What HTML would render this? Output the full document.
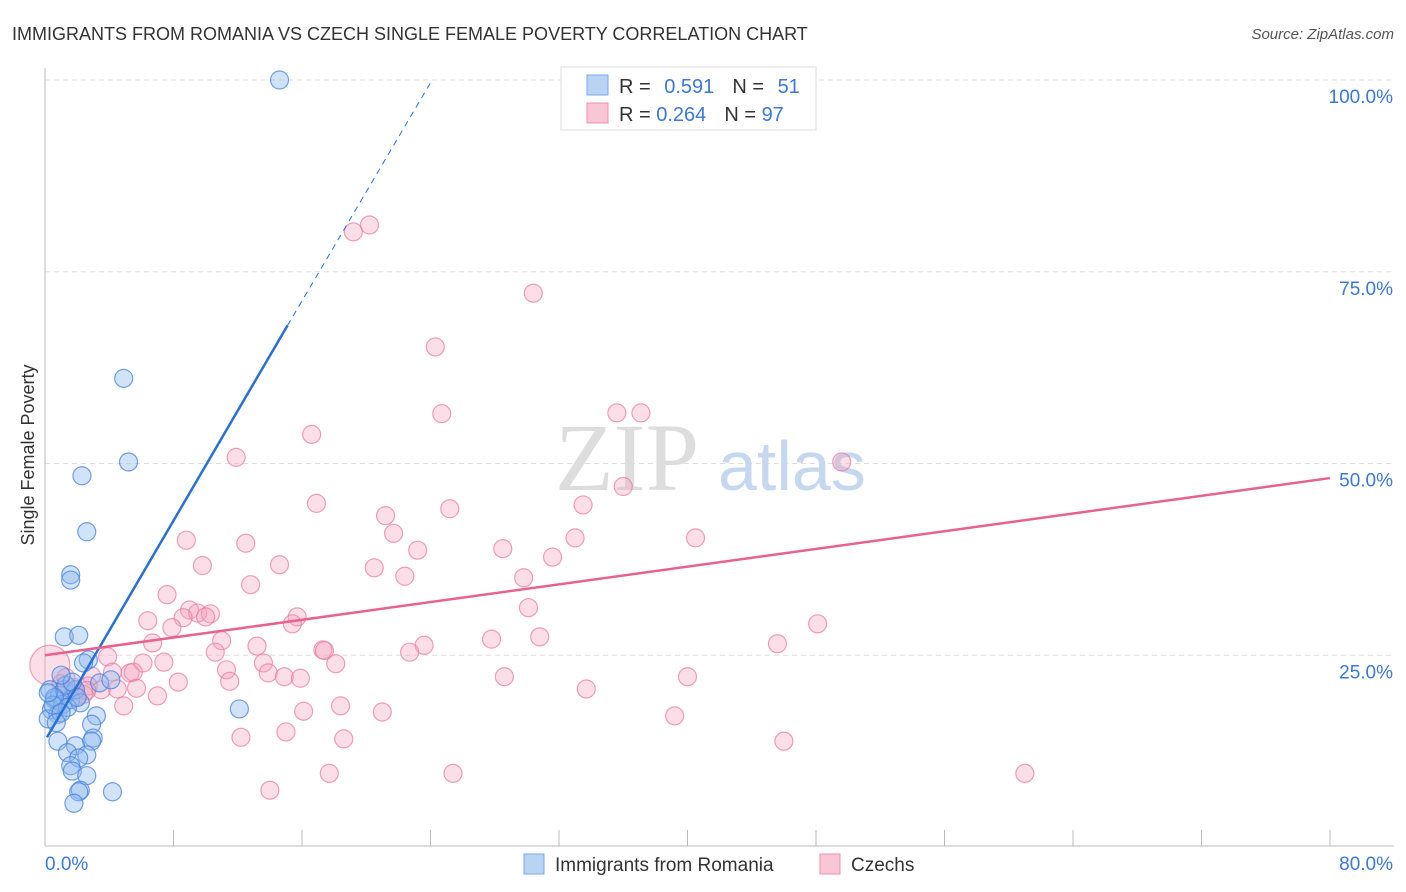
<!DOCTYPE html>
<html><head><meta charset="utf-8">
<style>
body{margin:0;background:#fff;font-family:"Liberation Sans",sans-serif;}
svg{display:block}
</style></head>
<body>
<svg id="chart" width="1406" height="892" viewBox="0 0 1406 892" xmlns="http://www.w3.org/2000/svg">
<text x="12" y="40" font-size="18" fill="#333">IMMIGRANTS FROM ROMANIA VS CZECH SINGLE FEMALE POVERTY CORRELATION CHART</text>
<text x="1394" y="39" font-size="15" fill="#555" font-style="italic" text-anchor="end">Source: ZipAtlas.com</text>
<text transform="translate(34,455) rotate(-90)" font-size="18" fill="#333" text-anchor="middle">Single Female Poverty</text>
<g id="grid"></g>
<g>
<text x="555" y="490" font-size="96" fill="#ddd" font-family="Liberation Serif,serif">ZIP</text>
<text x="718" y="490" font-size="70" fill="#c6d8f0">atlas</text>
</g>
<g id="axes"></g>
<g id="pinkpts"></g>
<g id="bluepts"></g>
<g id="trends"></g>
<g>
<rect x="561" y="67" width="255" height="63" fill="#fff" stroke="#ddd"/>
<rect x="587" y="75" width="21" height="20" fill="#b9d3f5" stroke="#7aa8e8"/>
<rect x="587" y="103" width="21" height="20" fill="#f9c6d5" stroke="#ee8fae"/>
<text x="619" y="93" font-size="20" fill="#333">R = <tspan fill="#3b78d8" dx="8">0.591</tspan><tspan dx="18" fill="#333">N = </tspan><tspan fill="#3b78d8" dx="8">51</tspan></text>
<text x="619" y="121" font-size="20" fill="#333">R = <tspan fill="#3b78d8">0.264</tspan><tspan dx="18" fill="#333">N = </tspan><tspan fill="#3b78d8">97</tspan></text>
</g>
<g>
<rect x="524" y="854" width="20" height="20" fill="#b9d3f5" stroke="#7aa8e8"/>
<text x="555" y="871" font-size="19" fill="#333">Immigrants from Romania</text>
<rect x="820" y="854" width="20" height="20" fill="#f9c6d5" stroke="#ee8fae"/>
<text x="851" y="871" font-size="19" fill="#333">Czechs</text>
</g>
</svg>
<script>
const yTicks=[25,50,75,100];
const yTickLabels=["25.0%","50.0%","75.0%","100.0%"];
const xTickLabels=["0.0%","80.0%"];
const blueX=[14.6,4.9,5.2,2.3,2.6,1.6,1.6,1.2,2.1,2.7,2.4,12.1,3.2,2.9,3,2.9,0.8,1.9,1.4,2.6,2.1,1.6,1.7,2.6,2.2,2.1,4.2,1.8,0.3,0.6,0.9,1.2,0.4,0.8,1.1,1.6,1.9,2.2,1.3,1.7,1.0,0.2,0.6,3.4,4.1,0.5,1.4,1.0,0.2,2.0,0.7];
const blueY=[100,61.1,50.2,48.4,41.1,35.5,34.8,27.4,27.6,24.4,24,18,17.1,16,14.2,13.8,13.8,13.2,12.3,12,11.6,10.6,9.9,9.3,7.4,7.2,7.2,5.7,20.5,19.2,19.8,20.5,17.9,17.3,18.6,19.2,20.5,18.8,21.1,21.5,22.4,16.7,19.5,21.4,21.8,18.5,18.2,17.5,20.1,19.5,16.2];
const pinkX=[20.2,19.2,30.4,24.3,24.7,35.6,37.1,16.6,11.9,49.6,36,16.9,25.2,33.5,21.2,21.7,8.8,12.5,40.5,33,23.2,28.5,31.6,9.8,14.6,20.5,22.4,29.8,12.8,7.6,30.1,9,9.5,10.3,8.6,10,6.4,15.7,15.4,7.9,48.1,6.7,11,27.8,30.8,23.6,13.2,45.6,17.3,17.4,22.7,10.6,3.9,7.4,6.1,13.6,18.1,0.3,11.3,4.2,5.3,5.5,13.9,14.9,15.9,28.6,40,2.9,11.5,8.3,2.7,4.5,5.7,3.5,33.7,7,4.9,18.4,16.1,21,39.2,15,12.2,18.6,46,17.7,25.4,61,14,1.5,2.0,1.0,2.4,1.8,0.8,2.6,1.3];
const pinkY=[81.1,80.2,72.2,65.2,56.5,56.6,56.6,53.8,50.8,50.2,47,44.8,44.1,44.6,43.2,40.9,40,39.6,40.3,40.3,38.7,38.9,37.8,36.7,36.8,36.4,35.3,35.1,34.2,32.9,31.2,30.9,30.5,30.4,29.9,30,29.5,30,29.1,28.6,29.1,26.6,26.9,27.1,27.4,26.3,26.2,26.5,25.7,25.6,25.4,25.4,24.8,24.1,24,24,23.9,23.7,23.1,22.8,22.7,22.8,22.7,22.2,22,22.2,22.2,22.3,21.6,21.5,21,20.6,20.7,20.5,20.6,19.7,18.4,18.4,17.7,17.6,17.1,15,14.3,14.1,13.8,9.6,9.6,9.6,7.4,20.2,19.6,21.3,19.9,20.8,19.1,20.4,22.1];
const blueTrend=[[0.12,14.3],[15.1,68],[24.1,100]];
const pinkTrend=[[0,25],[80,48.1]];
const X=v=>45+v/80*1285, Y=v=>847-v*7.67;
const NS="http://www.w3.org/2000/svg";
function mk(p,t,a){const e=document.createElementNS(NS,t);for(const k in a)e.setAttribute(k,a[k]);p.appendChild(e);return e;}
const grid=document.getElementById('grid'),axes=document.getElementById('axes');
yTicks.forEach((t,i)=>{
 const l=mk(grid,'line',{x1:45,x2:1394,y1:Y(t),y2:Y(t),stroke:'#ddd','stroke-dasharray':'5,4'});
 
 
 const tx=mk(axes,'text',{x:1393,y:Y(t)+23,'font-size':19,fill:'#3b78d8','text-anchor':'end'});
 tx.textContent=yTickLabels[i];
 
 
});
mk(axes,'line',{x1:45,x2:45,y1:68,y2:846,stroke:'#bbb'});
mk(axes,'line',{x1:45,x2:1394,y1:846,y2:846,stroke:'#bbb'});
for(let i=1;i<=10;i++){const x=X(i*8);mk(axes,'line',{x1:x,x2:x,y1:830,y2:846,stroke:'#bbb'});}
[[0,"start",45],[1,"end",1393]].forEach(([i,a,x])=>{
 const t=mk(axes,'text',{x:x,y:870,'font-size':19,fill:'#3b78d8','text-anchor':a});
 t.textContent=xTickLabels[i];
 
 
});
const bp=document.getElementById('bluepts'),pp=document.getElementById('pinkpts');
pinkX.forEach((x,i)=>{
 const c=mk(pp,'circle',{cx:X(x),cy:Y(pinkY[i]),r:(i==57?20:9),fill:'rgba(246,160,188,0.35)',stroke:'rgba(232,120,160,0.7)','stroke-width':1.2});
 
 
});
blueX.forEach((x,i)=>{
 const c=mk(bp,'circle',{cx:X(x),cy:Y(blueY[i]),r:9,fill:'rgba(140,185,240,0.4)',stroke:'rgba(70,130,220,0.75)','stroke-width':1.2});
 
 
});
const tr=document.getElementById('trends');
const b1=mk(tr,'line',{x1:X(blueTrend[0][0]),y1:Y(blueTrend[0][1]),x2:X(blueTrend[1][0]),y2:Y(blueTrend[1][1]),stroke:'#2a6fd6','stroke-width':2.5});


const b2=mk(tr,'line',{x1:X(blueTrend[1][0]),y1:Y(blueTrend[1][1]),x2:X(blueTrend[2][0]),y2:Y(blueTrend[2][1]),stroke:'#2a6fd6','stroke-width':1,'stroke-dasharray':'6,5'});


const p1=mk(tr,'line',{x1:X(pinkTrend[0][0]),y1:Y(pinkTrend[0][1]),x2:X(pinkTrend[1][0]),y2:Y(pinkTrend[1][1]),stroke:'#e8628f','stroke-width':2.5});


</script>
</body></html>
